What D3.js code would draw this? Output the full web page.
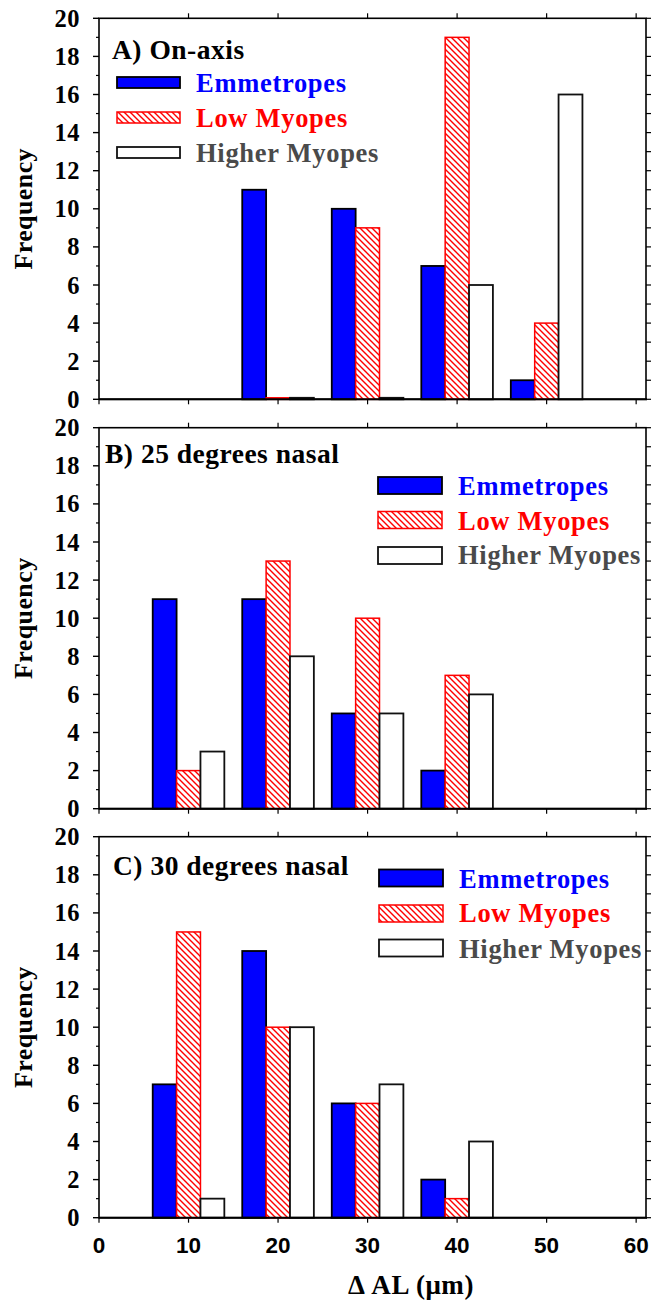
<!DOCTYPE html>
<html>
<head>
<meta charset="utf-8">
<script src="https://cdn.jsdelivr.net/npm/d3@7"></script>
<style>
  body { margin: 0; background: #fff; }
  svg { display: block; }
  .serif { font-family: "Liberation Serif", "Times New Roman", serif; font-weight: bold; }
  .sans { font-family: "Liberation Sans", Arial, sans-serif; font-weight: bold; }
</style>
</head>
<body>
<svg id="chart" width="653" height="1304"></svg>
<script>
// histogram data
const seriesNames = ['Emmetropes', 'Low Myopes', 'Higher Myopes'];
const panelTitles = ['A) On-axis', 'B) 25 degrees nasal', 'C) 30 degrees nasal'];

const binsA = [20, 30, 40, 50];
const emmA = [11, 10, 7, 1];
const lowA = [0, 9, 19, 4];
const highA = [0, 0, 6, 16];

const binsB = [10, 20, 30, 40];
const emmB = [11, 11, 5, 2];
const lowB = [2, 13, 10, 7];
const highB = [3, 8, 5, 6];

const binsC = [10, 20, 30, 40];
const emmC = [7, 14, 6, 2];
const lowC = [15, 10, 6, 1];
const highC = [1, 10, 7, 4];

const xTicks = [0, 10, 20, 30, 40, 50, 60];
const yTicks = [0, 2, 4, 6, 8, 10, 12, 14, 16, 18, 20];
const yMinor = d3.range(0, 21, 1);

const panels = [
  {title: panelTitles[0], bins: binsA, series: [emmA, lowA, highA]},
  {title: panelTitles[1], bins: binsB, series: [emmB, lowB, highB]},
  {title: panelTitles[2], bins: binsC, series: [emmC, lowC, highC]}
];

// layout (pixels)
const panelTops = [18.3, 427.7, 836.7];
const panelH = 381;
const titlePos = [{x: 112, y: 59}, {x: 105, y: 463}, {x: 113, y: 875}];
const legendPos = [
  {rx: 117, rw: 63, rh: 11, tops: [77, 112, 147], tx: 196, base: [92, 127, 162]},
  {rx: 378, rw: 64, rh: 17, tops: [477, 511.5, 547], tx: 458, base: [495, 529.5, 564]},
  {rx: 379, rw: 64, rh: 17, tops: [869.5, 905, 939.5], tx: 459, base: [887.5, 922, 958]}
];

const fills = ['#0000ff', 'url(#hatch)', '#ffffff'];
const strokes = ['#000', '#ff0000', '#111'];
const textColors = ['#0000ff', '#ff0000', '#4a4a4a'];

const svg = d3.select('#chart');

// red diagonal hatch
const defs = svg.append('defs');
const pat = defs.append('pattern')
  .attr('id', 'hatch')
  .attr('patternUnits', 'userSpaceOnUse')
  .attr('width', 6)
  .attr('height', 6);
pat.append('rect').attr('width', 6).attr('height', 6).attr('fill', '#fff');
pat.append('path')
  .attr('d', 'M-1,-1 L7,7 M-1,5 L1,7 M5,-1 L7,1')
  .attr('stroke', '#ff0000')
  .attr('stroke-width', 1.4);

const x = d3.scaleLinear().domain([0, 61.1]).range([99, 646]);
// offset of each series inside a 10-wide bin
const offset = d3.scaleBand().domain(seriesNames).range([-4, 4]);

panels.forEach((p, pi) => {
  const top = panelTops[pi];
  const y = d3.scaleLinear().domain([0, 20]).range([top + panelH, top]);
  const g = svg.append('g');

  // frame
  g.append('rect')
    .attr('x', x(0))
    .attr('y', y(20))
    .attr('width', x(61.1) - x(0))
    .attr('height', y(0) - y(20))
    .attr('fill', 'none')
    .attr('stroke', '#000')
    .attr('stroke-width', 1.6);

  // left axis: major + minor ticks
  g.selectAll('.ymin').data(yMinor.filter(v => v % 2)).enter()
    .append('line')
    .attr('x1', x(0) - 3).attr('x2', x(0))
    .attr('y1', d => y(d)).attr('y2', d => y(d))
    .attr('stroke', '#000').attr('stroke-width', 1.2);
  g.selectAll('.ymaj').data(yTicks).enter()
    .append('line')
    .attr('x1', x(0) - 6).attr('x2', x(0))
    .attr('y1', d => y(d)).attr('y2', d => y(d))
    .attr('stroke', '#000').attr('stroke-width', 1.4);
  g.selectAll('.ylab').data(yTicks).enter()
    .append('text')
    .attr('class', 'serif')
    .attr('x', 80)
    .attr('y', d => y(d) + 8.5)
    .attr('text-anchor', 'end')
    .attr('font-size', 24.5)
    .attr('letter-spacing', 0.5)
    .text(d => d);

  // right axis ticks
  g.selectAll('.yr').data(yMinor).enter()
    .append('line')
    .attr('x1', x(61.1)).attr('x2', x(61.1) + 5)
    .attr('y1', d => y(d)).attr('y2', d => y(d))
    .attr('stroke', '#000').attr('stroke-width', 1.2);

  // top and bottom ticks
  g.selectAll('.xt').data(xTicks.filter(d => d > 0)).enter()
    .append('line')
    .attr('x1', d => x(d)).attr('x2', d => x(d))
    .attr('y1', y(20) - 5).attr('y2', y(20))
    .attr('stroke', '#000').attr('stroke-width', 1.2);
  g.selectAll('.xb').data(xTicks).enter()
    .append('line')
    .attr('x1', d => x(d)).attr('x2', d => x(d))
    .attr('y1', y(0)).attr('y2', y(0) + 5)
    .attr('stroke', '#000').attr('stroke-width', 1.2);

  // bars
  p.series.forEach((vals, si) => {
    g.selectAll('.bar' + si).data(p.bins.map((b, i) => ({b, v: vals[i]}))).enter()
      .append('rect')
      .attr('x', d => x(d.b + offset(seriesNames[si])))
      .attr('width', d => x(d.b + offset(seriesNames[si]) + offset.bandwidth()) - x(d.b + offset(seriesNames[si])))
      .attr('y', d => y(d.v) - (d.v === 0 ? 1.5 : 0))
      .attr('height', d => y(0) - y(d.v) + (d.v === 0 ? 1.5 : 0))
      .attr('fill', fills[si])
      .attr('stroke', strokes[si])
      .attr('stroke-width', si === 1 ? 1.5 : 1.8);
  });

  // bottom axis line on top
  g.append('line')
    .attr('x1', x(0)).attr('x2', x(61.1) + 1)
    .attr('y1', y(0)).attr('y2', y(0))
    .attr('stroke', '#000').attr('stroke-width', 2);

  // panel title
  g.append('text')
    .attr('class', 'serif')
    .attr('x', titlePos[pi].x)
    .attr('y', titlePos[pi].y)
    .attr('font-size', 27.5)
    .attr('letter-spacing', 0.5)
    .text(p.title);

  // legend
  const L = legendPos[pi];
  seriesNames.forEach((name, si) => {
    g.append('rect')
      .attr('x', L.rx).attr('y', L.tops[si])
      .attr('width', L.rw).attr('height', L.rh)
      .attr('fill', fills[si])
      .attr('stroke', strokes[si])
      .attr('stroke-width', si === 1 ? 1.5 : 1.8);
    g.append('text')
      .attr('class', 'serif')
      .attr('x', L.tx).attr('y', L.base[si])
      .attr('font-size', 26.5)
      .attr('letter-spacing', 0.7)
      .attr('fill', textColors[si])
      .text(name);
  });

  // y label
  g.append('text')
    .attr('class', 'serif')
    .attr('transform', `translate(32, ${top + panelH / 2}) rotate(-90)`)
    .attr('text-anchor', 'middle')
    .attr('font-size', 26)
    .attr('letter-spacing', 0.4)
    .text('Frequency');

  // x tick labels only on the last panel
  if (pi === panels.length - 1) {
    g.selectAll('.xlab').data(xTicks).enter()
      .append('text')
      .attr('class', 'sans')
      .attr('x', d => x(d))
      .attr('y', 1253)
      .attr('text-anchor', 'middle')
      .attr('font-size', 22.5)
      .text(d => d);
    g.append('text')
      .attr('class', 'serif')
      .attr('x', 411)
      .attr('y', 1294)
      .attr('text-anchor', 'middle')
      .attr('font-size', 27)
      .attr('letter-spacing', 0.6)
      .text('\u0394 AL (\u03bcm)');
  }
});
</script>
</body>
</html>
